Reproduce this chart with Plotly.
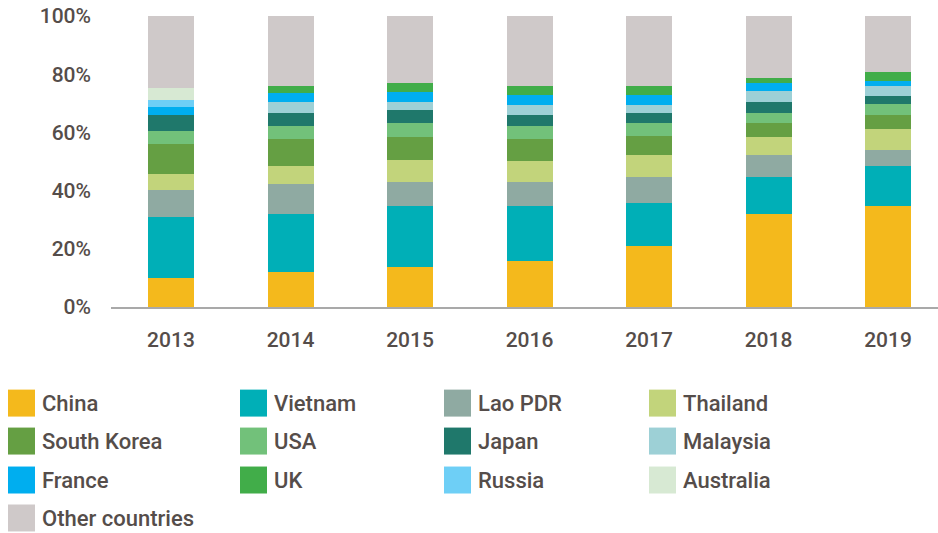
import plotly.graph_objects as go

years = ["2013", "2014", "2015", "2016", "2017", "2018", "2019"]

china = [10.1, 12.1, 13.8, 15.9, 21.1, 32.0, 34.8]
vietnam = [20.9, 19.9, 20.9, 18.9, 14.8, 12.7, 13.7]
lao = [9.3, 10.3, 8.2, 8.2, 8.9, 7.6, 5.5]
thailand = [5.5, 6.2, 7.6, 7.2, 7.6, 6.2, 7.2]
south_korea = [10.3, 9.3, 7.9, 7.6, 6.2, 4.8, 4.8]
usa = [4.5, 4.5, 4.8, 4.5, 4.8, 3.4, 3.8]
japan = [5.5, 4.5, 4.5, 3.8, 3.4, 3.8, 2.7]
malaysia = [0.0, 3.8, 2.7, 3.4, 2.7, 3.8, 3.4]
france = [2.7, 2.9, 3.6, 3.2, 3.2, 2.7, 1.7]
uk = [0.0, 2.6, 3.0, 3.3, 3.3, 1.7, 3.1]
russia = [2.4, 0.0, 0.0, 0.0, 0.0, 0.0, 0.0]
australia = [4.1, 0.0, 0.0, 0.0, 0.0, 0.0, 0.0]
other = [24.7, 24.0, 23.0, 24.0, 24.0, 21.3, 19.2]

y_ticks = [0, 20, 40, 60, 80, 100]
y_tick_labels = ["0%", "20%", "40%", "60%", "80%", "100%"]

series = [
    ("China", china, "#F4B91C"),
    ("Vietnam", vietnam, "#00AFB7"),
    ("Lao PDR", lao, "#8FAAA2"),
    ("Thailand", thailand, "#C2D47B"),
    ("South Korea", south_korea, "#659F43"),
    ("USA", usa, "#72C17A"),
    ("Japan", japan, "#1F786B"),
    ("Malaysia", malaysia, "#9DD0D6"),
    ("France", france, "#00AEEF"),
    ("UK", uk, "#41AD49"),
    ("Russia", russia, "#6ECFF6"),
    ("Australia", australia, "#D7E9D3"),
    ("Other countries", other, "#CFC9C9"),
]

TEXT = "#554D4A"
FONT = "Roboto"

fig = go.Figure()
for name, vals, col in series:
    fig.add_trace(go.Bar(
        x=years, y=vals, name=name, width=0.385,
        marker=dict(color=col, line=dict(width=0)),
        showlegend=False,
    ))

W, H = 938, 533
L, R, T = 111, 0, 16
B = H - 307.3
pw, ph = W - L - R, H - T - B

def px(x):
    return (x - L) / pw

def py(y):
    return (H - B - y) / ph

shapes = []
annotations = []
col_x = [8, 240, 444, 649]
row_y = [390, 428, 467, 505]
for i, (name, vals, col) in enumerate(series):
    r, c = divmod(i, 4)
    x0 = col_x[c]
    y0 = row_y[r]
    shapes.append(dict(type="rect", xref="paper", yref="paper",
                       x0=px(x0), x1=px(x0 + 27), y0=py(y0 + 27), y1=py(y0),
                       fillcolor=col, line=dict(width=0)))
    annotations.append(dict(xref="paper", yref="paper", x=px(x0 + 32), y=py(y0 + 14),
                            text=name, showarrow=False, xanchor="left", yanchor="middle",
                            font=dict(family=FONT, size=22, color=TEXT, weight=500)))

fig.update_layout(
    barmode="stack",
    width=W, height=H,
    margin=dict(l=L, r=R, t=T, b=B, pad=0, autoexpand=False),
    plot_bgcolor="white", paper_bgcolor="white",
    font=dict(family=FONT, size=21, color=TEXT),
    xaxis=dict(
        type="category", range=[-0.502, 6.418], automargin=False,
        showgrid=False, zeroline=False,
        showline=True, linecolor="#A9A9A9", linewidth=1.5,
        ticks="", ticklabelstandoff=13,
        tickfont=dict(family=FONT, size=21, color=TEXT, weight=500),
    ),
    yaxis=dict(
        range=[0, 100], tickvals=y_ticks, ticktext=y_tick_labels, automargin=False,
        showgrid=False, zeroline=False, showline=False,
        ticks="", ticklabelstandoff=19, ticklabeloverflow="allow",
        tickfont=dict(family=FONT, size=21, color=TEXT, weight=500),
    ),
    shapes=shapes,
    annotations=annotations,
)

fig.write_html(
    "out.html",
    config={"displayModeBar": False},
    post_script="document.body.style.margin='0';document.body.style.overflow='hidden';",
)
